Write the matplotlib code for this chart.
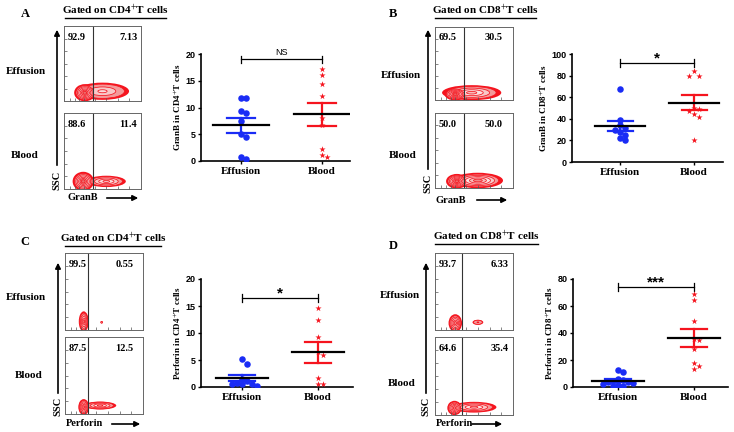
import numpy as np
import matplotlib.pyplot as plt
from matplotlib.patches import Ellipse, FancyArrowPatch
from matplotlib.lines import Line2D

plt.rcParams['mathtext.fontset'] = 'stix'

W, H = 734, 432
SERIF = 'Liberation Serif'
SANS = 'Liberation Sans'
BLUE = '#1a2cf5'
RED = '#f5141e'

groups = ['Effusion', 'Blood']

# dot plot values (% positive cells)
granb_cd4_eff = [11.8, 11.8, 9.3, 8.9, 7.5, 5.1, 4.4, 0.4, 0.7]
granb_cd4_blood = [17.2, 16.0, 14.3, 12.2, 8.0, 6.8, 2.2, 1.1, 0.7]
granb_cd8_eff = [67.5, 39, 34, 31.5, 30, 28, 25, 22, 20]
granb_cd8_blood = [84, 80, 79.5, 50, 49, 47, 44, 42, 20]
perf_cd4_eff = [5.2, 4.3, 1.5, 1.1, 0.7, 0.6, 0.6, 0.5, 0.2]
perf_cd4_blood = [14.7, 12.5, 9.3, 6.4, 5.9, 1.7, 0.6, 0.5]
perf_cd8_eff = [12.5, 11.0, 6.0, 5.0, 4.5, 4.0, 3.5, 3.0, 2.5, 1.5, 1.0, 0.5]
perf_cd8_blood = [69, 64.5, 49, 35.5, 35, 28, 17.5, 15.5, 13]

# flow quadrant percentages: (effusion left, right), (blood left, right)
granb_cd4_pct = [('92.9', '7.13'), ('88.6', '11.4')]
granb_cd8_pct = [('69.5', '30.5'), ('50.0', '50.0')]
perf_cd4_pct = [('99.5', '0.55'), ('87.5', '12.5')]
perf_cd8_pct = [('93.7', '6.33'), ('64.6', '35.4')]

fig = plt.figure(figsize=(W / 100, H / 100), dpi=100)


def px_axes(x0, y0, x1, y1):
    return fig.add_axes([x0 / W, 1 - y1 / H, (x1 - x0) / W, (y1 - y0) / H])


def ftext(x, y, s, **kw):
    kw.setdefault('family', SERIF)
    kw.setdefault('weight', 'bold')
    fig.text(x / W, 1 - y / H, s, **kw)


def fline(x0, x1, y0, y1, lw=1.0):
    fig.add_artist(Line2D([x0 / W, x1 / W], [1 - y0 / H, 1 - y1 / H],
                          transform=fig.transFigure, color='k', lw=lw))


def farrow(x0, y0, x1, y1):
    fig.add_artist(FancyArrowPatch((x0 / W, 1 - y0 / H), (x1 / W, 1 - y1 / H),
                                   transform=fig.transFigure, arrowstyle='-|>',
                                   mutation_scale=8, lw=1.2, color='k'))


def swarm(vals, ymax, hpx, upx, d=5.0):
    offs = np.zeros(len(vals))
    placed = []
    cands = [0.0] + [s * j * d for j in range(1, 12) for s in (1, -1)]
    for i in np.argsort(vals)[::-1]:
        y = vals[i] / ymax * hpx
        for c in cands:
            if all(np.hypot(c - px, y - py) >= d for px, py in placed):
                break
        placed.append((c, y))
        offs[i] = c / upx
    return offs


def dot_panel(box, eff, blood, ymax, step, ylabel, sig, sig_y, xr):
    ax = px_axes(*box)
    ax.set_xlim(*xr)
    ax.set_ylim(0, ymax)
    hpx = box[3] - box[1]
    upx = (box[2] - box[0]) / (xr[1] - xr[0])
    for i, (vals, col, mk, sz) in enumerate([(eff, BLUE, 'o', 22), (blood, RED, '*', 22)]):
        vals = np.array(vals, dtype=float)
        xs = i + swarm(vals, ymax, hpx, upx)
        ax.scatter(xs, vals, s=sz, marker=mk, color=col, linewidths=0, zorder=3)
        m = vals.mean()
        se = vals.std(ddof=1) / np.sqrt(len(vals))
        ax.plot([i, i], [m - se, m + se], color=col, lw=1.6, zorder=4)
        ax.plot([i - 0.17, i + 0.17], [m - se] * 2, color=col, lw=1.6, zorder=4)
        ax.plot([i - 0.17, i + 0.17], [m + se] * 2, color=col, lw=1.6, zorder=4)
        ax.plot([i - 0.34, i + 0.34], [m, m], color='k', lw=1.6, zorder=5)
    t = ymax * 0.035
    ax.plot([0, 1], [sig_y, sig_y], color='k', lw=0.9)
    ax.plot([0, 0], [sig_y - t, sig_y + t], color='k', lw=0.9)
    ax.plot([1, 1], [sig_y - t, sig_y + t], color='k', lw=0.9)
    if sig == 'NS':
        ax.text(0.5, sig_y + ymax * 0.02, sig, ha='center', va='bottom',
                family=SANS, fontsize=6.5)
    else:
        ax.text(0.5, sig_y - ymax * 0.02, sig, ha='center', va='bottom',
                family=SANS, weight='bold', fontsize=11)
    for s in ('top', 'right'):
        ax.spines[s].set_visible(False)
    for s in ('left', 'bottom'):
        ax.spines[s].set_linewidth(1.2)
    ax.set_yticks(np.arange(0, ymax + 1, step))
    ax.set_xticks([0, 1])
    ax.set_xticklabels(groups, family=SERIF, weight='bold', fontsize=8)
    for lab in ax.get_yticklabels():
        lab.set_family(SANS)
        lab.set_weight('bold')
        lab.set_fontsize(6.5)
    ax.tick_params(length=2.5, width=1.0, pad=1.5)
    ax.set_ylabel(ylabel, family=SERIF, weight='bold', fontsize=6.5, labelpad=2)
    return ax


def contour_blob(ax, blobs):
    # blobs: (cx, cy, rx, ry, number of contour rings)
    for cx, cy, rx, ry, n in blobs:
        ax.add_patch(Ellipse((cx, cy), 2.3 * rx, 2.3 * ry, fc=RED, ec='none'))
    shades = ['#f39a9a', '#f8c8c8', '#fbe0e0', '#f6bcbc', '#f08888', '#ec6a6a']
    for cx, cy, rx, ry, n in blobs:
        for k, s in enumerate(np.linspace(0.95, 0.2, n)):
            ax.add_patch(Ellipse((cx, cy), 2 * rx * s, 2 * ry * s,
                                 fc=shades[k], ec=RED, lw=0.55))


def flow_panel(box, gate, pct, blobs, right_x):
    ax = px_axes(*box)
    ax.set_xlim(0, 1)
    ax.set_ylim(0, 1)
    contour_blob(ax, blobs)
    g = (gate - box[0]) / (box[2] - box[0])
    ax.axvline(g, color='#333333', lw=0.8)
    ax.text(0.05, 0.85, pct[0], ha='left', va='center', family=SERIF,
            weight='bold', fontsize=7.5)
    ax.text(right_x, 0.85, pct[1], ha='right', va='center', family=SERIF,
            weight='bold', fontsize=7.5)
    ax.set_yticks(np.linspace(0, 1, 7)[1:-1])
    ax.set_xticks([0.08, 0.14, 0.2, 0.26, 0.4, 0.55, 0.7, 0.85])
    ax.tick_params(direction='in', length=2, width=0.5, color='#555555',
                   labelleft=False, labelbottom=False)
    for s in ax.spines.values():
        s.set_linewidth(0.7)
        s.set_color('#666666')
    return ax


# ---- A: GranB, CD4 ----
ftext(25, 14, 'A', ha='center', va='center', fontsize=9)
ftext(115, 10, r'Gated on CD4$^{+}$T cells', ha='center', va='center', fontsize=8)
fline(65, 166, 18, 18)
flow_panel((64, 26, 141, 101), 93, granb_cd4_pct[0],
           [(0.5, 0.13, 0.3, 0.1, 3), (0.27, 0.11, 0.12, 0.1, 6)], 0.95)
flow_panel((64, 113, 141, 189), 93, granb_cd4_pct[1],
           [(0.55, 0.1, 0.22, 0.065, 4), (0.25, 0.1, 0.12, 0.11, 6)], 0.95)
ftext(26, 72, 'Effusion', ha='center', va='center', fontsize=8)
ftext(25, 156, 'Blood', ha='center', va='center', fontsize=8)
farrow(57, 168, 57, 27)
ftext(57, 180, 'SSC', ha='center', va='center', rotation=90, fontsize=7.5)
ftext(67, 197, 'GranB', ha='left', va='center', fontsize=7.5)
farrow(104, 198, 141, 198)
dot_panel((201, 54, 350, 161), granb_cd4_eff, granb_cd4_blood, 20, 5,
          r'GranB in CD4$^{+}$T cells', 'NS', 19, (-0.494, 1.346))

# ---- B: GranB, CD8 ----
ftext(393, 14, 'B', ha='center', va='center', fontsize=9)
ftext(485, 10, r'Gated on CD8$^{+}$T cells', ha='center', va='center', fontsize=8)
fline(435, 536, 18, 18)
flow_panel((435, 27, 513, 100), 464, granb_cd8_pct[0],
           [(0.47, 0.1, 0.33, 0.09, 4), (0.26, 0.08, 0.12, 0.075, 6)], 0.87)
flow_panel((435, 113, 513, 188), 464, granb_cd8_pct[1],
           [(0.55, 0.1, 0.28, 0.09, 5), (0.28, 0.09, 0.12, 0.085, 6)], 0.87)
ftext(401, 75, 'Effusion', ha='center', va='center', fontsize=8)
ftext(403, 155, 'Blood', ha='center', va='center', fontsize=8)
farrow(428, 172, 428, 27)
ftext(428, 183, 'SSC', ha='center', va='center', rotation=90, fontsize=7.5)
ftext(436, 200, 'GranB', ha='left', va='center', fontsize=7.5)
farrow(474, 200, 510, 200)
dot_panel((572, 54, 723, 162), granb_cd8_eff, granb_cd8_blood, 100, 20,
          r'GranB in CD8$^{+}$T cells', '*', 91.7, (-0.65, 1.39))

# ---- C: Perforin, CD4 ----
ftext(25, 242, 'C', ha='center', va='center', fontsize=9)
ftext(113, 238, r'Gated on CD4$^{+}$T cells', ha='center', va='center', fontsize=8)
fline(65, 161, 246, 246)
flow_panel((65, 253, 143, 330), 88, perf_cd4_pct[0],
           [(0.47, 0.1, 0.012, 0.012, 1), (0.24, 0.11, 0.055, 0.115, 5)], 0.88)
flow_panel((65, 337, 143, 414), 88, perf_cd4_pct[1],
           [(0.45, 0.11, 0.18, 0.045, 4), (0.24, 0.09, 0.06, 0.09, 5)], 0.88)
ftext(26, 298, 'Effusion', ha='center', va='center', fontsize=8)
ftext(29, 375, 'Blood', ha='center', va='center', fontsize=8)
farrow(58, 396, 58, 260)
ftext(58, 406, 'SSC', ha='center', va='center', rotation=90, fontsize=7.5)
ftext(66, 424, 'Perforin', ha='left', va='center', fontsize=7.5)
farrow(109, 424, 143, 424)
dot_panel((201, 279, 353, 387), perf_cd4_eff, perf_cd4_blood, 20, 5,
          r'Perforin in CD4$^{+}$T cells', '*', 16.5, (-0.54, 1.46))

# ---- D: Perforin, CD8 ----
ftext(393, 246, 'D', ha='center', va='center', fontsize=9)
ftext(486, 236, r'Gated on CD8$^{+}$T cells', ha='center', va='center', fontsize=8)
fline(435, 538, 244, 244)
flow_panel((435, 253, 513, 330), 462, perf_cd8_pct[0],
           [(0.55, 0.1, 0.06, 0.028, 2), (0.26, 0.09, 0.075, 0.1, 5)], 0.94)
flow_panel((435, 337, 513, 415), 462, perf_cd8_pct[1],
           [(0.5, 0.1, 0.25, 0.06, 4), (0.25, 0.09, 0.08, 0.08, 5)], 0.94)
ftext(400, 296, 'Effusion', ha='center', va='center', fontsize=8)
ftext(402, 383, 'Blood', ha='center', va='center', fontsize=8)
farrow(426, 396, 426, 260)
ftext(426, 406, 'SSC', ha='center', va='center', rotation=90, fontsize=7.5)
ftext(436, 424, 'Perforin', ha='left', va='center', fontsize=7.5)
farrow(469, 424, 505, 424)
dot_panel((573, 279, 728, 387), perf_cd8_eff, perf_cd8_blood, 80, 20,
          r'Perforin in CD8$^{+}$T cells', '***', 74, (-0.59, 1.45))

fig.savefig('out.png', dpi=100)
